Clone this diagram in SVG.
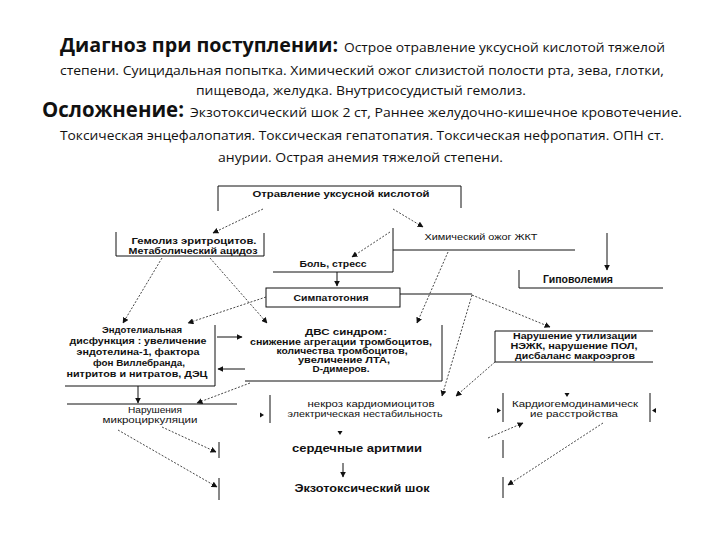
<svg xmlns="http://www.w3.org/2000/svg" width="720" height="540" viewBox="0 0 720 540">
<defs>
<style>
.t{font-family:"Open Sans","Liberation Sans",sans-serif;fill:#111}
.h{font-size:20px;font-weight:bold}
.m{font-size:13.5px}
.n{font-family:"Liberation Sans",Arial,sans-serif;font-size:8.2px;fill:#111;text-anchor:middle}
.b{font-weight:bold}
.L{font-size:10px;font-weight:bold}
.bx{fill:none;stroke:#111;stroke-width:1}
.d{fill:none;stroke:#333;stroke-width:0.9;stroke-dasharray:2 1.6}
.s{fill:none;stroke:#111;stroke-width:1}
.ah{fill:#111}
</style>
<marker id="a" viewBox="0 0 10 10" refX="9" refY="5" markerWidth="6" markerHeight="6" markerUnits="userSpaceOnUse" orient="auto">
<path d="M0,0 L10,5 L0,10 z" fill="#111"/>
</marker>
</defs>
<rect width="720" height="540" fill="#fff"/>

<g id="title">
<text class="t" y="52"><tspan class="h" x="60" textLength="278" lengthAdjust="spacingAndGlyphs">Диагноз при поступлении:</tspan><tspan class="m" x="344" textLength="321" lengthAdjust="spacingAndGlyphs">Острое отравление уксусной кислотой тяжелой</tspan></text>
<text class="t m" x="60" y="75" textLength="604" lengthAdjust="spacingAndGlyphs">степени. Суицидальная попытка. Химический ожог слизистой полости рта, зева,  глотки,</text>
<text class="t m" x="196" y="95" textLength="330" lengthAdjust="spacingAndGlyphs">пищевода, желудка. Внутрисосудистый гемолиз.</text>
<text class="t" y="117"><tspan class="h" x="42" style="font-size:21px" textLength="142" lengthAdjust="spacingAndGlyphs">Осложнение:</tspan><tspan class="m" x="190" textLength="492" lengthAdjust="spacingAndGlyphs">Экзотоксический шок 2 ст, Раннее желудочно-кишечное кровотечение.</tspan></text>
<text class="t m" x="60" y="140" textLength="604" lengthAdjust="spacingAndGlyphs">Токсическая энцефалопатия. Токсическая гепатопатия. Токсическая нефропатия. ОПН ст.</text>
<text class="t m" x="218" y="162" textLength="285" lengthAdjust="spacingAndGlyphs">анурии. Острая  анемия  тяжелой степени.</text>
</g>

<g id="n-poisoning">
<path class="bx" d="M218,211 V186 H461 V208"/>
<text class="n b" x="341" y="197" textLength="177" lengthAdjust="spacingAndGlyphs">Отравление уксусной кислотой</text>
</g>

<g id="n-hemolysis">
<path class="bx" d="M116,232 V256 H264 V233"/>
<text class="n b" x="194" y="244" textLength="125" lengthAdjust="spacingAndGlyphs">Гемолиз эритроцитов.</text>
<text class="n b" x="193" y="254" textLength="129" lengthAdjust="spacingAndGlyphs">Метаболический ацидоз</text>
</g>

<g id="n-burn">
<path class="bx" d="M393,250 H575"/>
<text class="n" x="481" y="240" textLength="113" lengthAdjust="spacingAndGlyphs">Химический ожог ЖКТ</text>
</g>

<g id="n-hypovolemia">
<path class="bx" d="M519,270 V288 H663"/>
<text class="n L" x="578" y="283" textLength="70" lengthAdjust="spacingAndGlyphs">Гиповолемия</text>
</g>

<g id="n-pain">
<path class="bx" d="M393,228 V272 H273"/>
<text class="n b" x="333" y="267" textLength="67" lengthAdjust="spacingAndGlyphs">Боль, стресс</text>
</g>

<g id="n-sympathotonia">
<rect class="bx" x="266" y="288" width="134" height="19"/>
<text class="n b" x="331" y="301" textLength="75" lengthAdjust="spacingAndGlyphs">Симпатотония</text>
</g>

<g id="n-endothelial">
<path class="bx" d="M215,325 V386 H65"/>
<text class="n b" x="142" y="333" textLength="80" lengthAdjust="spacingAndGlyphs">Эндотелиальная</text>
<text class="n b" x="138" y="344" textLength="137" lengthAdjust="spacingAndGlyphs">дисфункция : увеличение</text>
<text class="n b" x="138" y="355" textLength="123" lengthAdjust="spacingAndGlyphs">эндотелина-1, фактора</text>
<text class="n b" x="139" y="366" textLength="92" lengthAdjust="spacingAndGlyphs">фон Виллебранда,</text>
<text class="n b" x="137" y="377" textLength="141" lengthAdjust="spacingAndGlyphs">нитритов и нитратов, ДЭЦ</text>
</g>

<g id="n-dic">
<path class="bx" d="M442,325 V381 H245"/>
<text class="n b" x="346" y="335" textLength="82" lengthAdjust="spacingAndGlyphs">ДВС синдром:</text>
<text class="n b" x="341" y="345" textLength="182" lengthAdjust="spacingAndGlyphs">снижение агрегации тромбоцитов,</text>
<text class="n b" x="342" y="354" textLength="131" lengthAdjust="spacingAndGlyphs">количества тромбоцитов,</text>
<text class="n b" x="344" y="363" textLength="92" lengthAdjust="spacingAndGlyphs">увеличение ЛТА,</text>
<text class="n b" x="341" y="372" textLength="57" lengthAdjust="spacingAndGlyphs">D-димеров.</text>
</g>

<g id="n-utilization">
<path class="bx" d="M653,331 H495 V362 H653"/>
<text class="n b" x="575" y="339" textLength="124" lengthAdjust="spacingAndGlyphs">Нарушение утилизации</text>
<text class="n b" x="574" y="349" textLength="127" lengthAdjust="spacingAndGlyphs">НЭЖК, нарушение ПОЛ,</text>
<text class="n b" x="575" y="359" textLength="120" lengthAdjust="spacingAndGlyphs">дисбаланс макроэргов</text>
</g>

<g id="n-microcirculation">
<path class="bx" d="M67,404 H237"/>
<text class="n" x="155" y="413" textLength="54" lengthAdjust="spacingAndGlyphs">Нарушения</text>
<text class="n" x="150" y="423" textLength="95" lengthAdjust="spacingAndGlyphs">микроциркуляции</text>
</g>

<g id="n-necrosis">
<path class="bx" d="M270,395 V423"/>
<path class="ah" d="M260,412.5 L264,415 L260,417.5 z"/>
<text class="n" x="371" y="407" textLength="127" lengthAdjust="spacingAndGlyphs">некроз кардиомиоцитов</text>
<text class="n" x="365" y="417" textLength="155" lengthAdjust="spacingAndGlyphs">электрическая нестабильность</text>
</g>

<g id="n-cardiohemo">
<path class="bx" d="M503,393 V422 M650,393 V422"/>
<path class="ah" d="M497,408 L501,410.5 L497,413 z"/>
<path class="ah" d="M656,408 L652,410.5 L656,413 z"/>
<path class="ah" d="M564.5,393 L569.5,393 L567,397 z"/>
<text class="n" x="575" y="407" textLength="126" lengthAdjust="spacingAndGlyphs">Кардиогемодинамическ</text>
<text class="n" x="574" y="417" textLength="88" lengthAdjust="spacingAndGlyphs">ие расстройства</text>
</g>

<g id="n-arrhythmia">
<path class="bx" d="M219,442 V458 M503,440 V458"/>
<path class="ah" d="M337.5,431 L342.5,431 L340,435 z"/>
<text class="n L" x="357" y="452" textLength="130" lengthAdjust="spacingAndGlyphs">сердечные аритмии</text>
</g>

<g id="n-shock">
<path class="bx" d="M219,478 V500 M503,477 V498"/>
<text class="n L" x="362" y="492" textLength="135" lengthAdjust="spacingAndGlyphs">Экзотоксический шок</text>
</g>

<g id="connectors">
<path class="d" marker-end="url(#a)" d="M263,209 L213,233"/>
<path class="d" marker-end="url(#a)" d="M393,209 L423,227"/>
<path class="d" marker-end="url(#a)" d="M390,232 L352,257"/>
<path class="d" marker-end="url(#a)" d="M448,252 L417,323"/>
<path class="d" marker-end="url(#a)" d="M162,258 L123,323"/>
<path class="d" marker-end="url(#a)" d="M210,258 L267,323"/>
<path class="d" marker-end="url(#a)" d="M266,297 L188,323"/>
<path class="s" d="M400,294 H472"/>
<path class="d" marker-end="url(#a)" d="M472,295 L550,327"/>
<path class="d" marker-end="url(#a)" d="M472,295 L442,396"/>
<path class="d" marker-end="url(#a)" d="M495,362 L456,396"/>
<path class="d" marker-end="url(#a)" d="M250,383 L197,403"/>
<path class="d" marker-end="url(#a)" d="M118,430 L217,487"/>
<path class="d" marker-end="url(#a)" d="M162,427 L216,452"/>
<path class="d" marker-end="url(#a)" d="M488,438 L523,423"/>
<path class="d" marker-end="url(#a)" d="M603,423 L508,485"/>
<path class="s" marker-end="url(#a)" d="M607,233 V270"/>
<path class="s" marker-end="url(#a)" d="M337,272 V286"/>
<path class="s" marker-end="url(#a)" d="M217,337 H242"/>
<path class="s" marker-end="url(#a)" d="M245,369 H218"/>
<path class="s" marker-end="url(#a)" d="M138,386 V403"/>
<path class="s" marker-end="url(#a)" d="M343,463 V477"/>
</g>
</svg>
